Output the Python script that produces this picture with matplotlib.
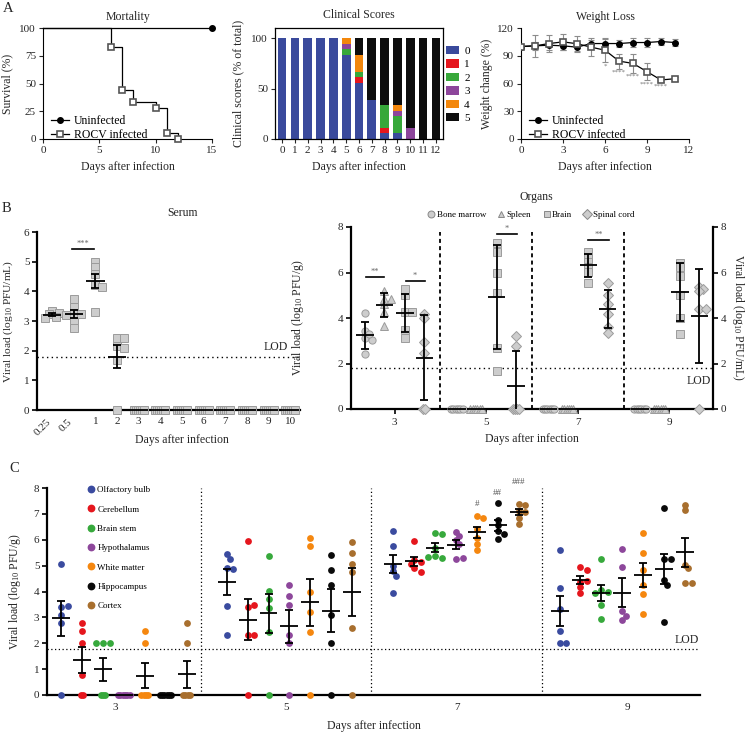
import numpy as np
import matplotlib
matplotlib.use('Agg')
import matplotlib.pyplot as plt
from matplotlib.lines import Line2D

plt.rcParams['font.family'] = ['Liberation Serif', 'DejaVu Serif']
plt.rcParams['mathtext.fontset'] = 'custom'
plt.rcParams['mathtext.rm'] = 'Liberation Serif'
plt.rcParams['mathtext.it'] = 'Liberation Serif:italic'

# ---------------- data ----------------
# A: mortality (Kaplan-Meier steps)
mort_days_inf = [0, 6, 7, 8, 10, 11, 12]
mort_surv_inf = [100, 83.3, 44.4, 33.3, 27.8, 5.6, 0]
mort_days_un = [0, 15]
mort_surv_un = [100, 100]

# A: clinical scores, % of animals per score
clin_days = list(range(13))
clin_scores = ['0', '1', '2', '3', '4', '5']
score0 = [100, 100, 100, 100, 100, 83.3, 55.6, 38.9, 5.6, 5.6, 0, 0, 0]
score1 = [0, 0, 0, 0, 0, 0, 5.6, 0, 5.6, 0, 0, 0, 0]
score2 = [0, 0, 0, 0, 0, 5.6, 5.6, 0, 22.2, 16.7, 0, 0, 0]
score3 = [0, 0, 0, 0, 0, 5.6, 0, 0, 0, 5.6, 11.1, 0, 0]
score4 = [0, 0, 0, 0, 0, 5.6, 16.7, 0, 0, 5.6, 0, 0, 0]
score5 = [0, 0, 0, 0, 0, 0, 16.7, 61.1, 66.7, 66.7, 88.9, 100, 100]
score_colors = ['#3a4a9c', '#e5161d', '#37a83a', '#8d459b', '#f3870c', '#0d0d0d']

# A: weight change
wt_days = list(range(12))
wt_uninf = [100, 100.7, 101.4, 100.7, 99.3, 103.2, 103.2, 103.2, 104.3, 104.3, 105.4, 104.3]
wt_uninf_err = [0, 4, 5, 5, 5, 4, 5, 4, 5, 5, 4, 4]
wt_inf = [100, 100.7, 103.2, 105, 103, 99.3, 96.0, 84.2, 81.7, 72.8, 63.8, 65.2]
wt_inf_err = [0, 12, 9, 9, 8, 10, 13, 8, 10, 9, 2, 2]
wt_star_days = [6, 7, 8, 9, 10]
wt_stars = ['*', '****', '****', '****', '****']

# B: serum viremia
serum_labels = ['0.25', '0.5', '1', '2', '3', '4', '5', '6', '7', '8', '9', '10']
serum_vals = [
    [3.35, 3.28, 3.22, 3.15, 3.1, 3.2],
    [3.74, 3.48, 3.26, 3.22, 2.98, 2.75],
    [5.0, 4.83, 4.6, 4.21, 4.16, 3.29],
    [2.42, 2.42, 2.16, 2.1, 1.69, 0],
    [0] * 6, [0] * 6, [0] * 6, [0] * 6,
    [0] * 6, [0] * 6, [0] * 6, [0] * 6,
]
lod = 1.8

# B: organs
org_days = [3, 5, 7, 9]
org_names = ['Bone marrow', 'Spleen', 'Brain', 'Spinal cord']
bone_marrow = [[4.2, 3.43, 3.1, 3.03, 3.28, 2.4], [0] * 6, [0] * 6, [0] * 6]
spleen = [[5.19, 4.84, 4.84, 4.6, 4.28, 3.65], [0] * 6, [0] * 6, [0] * 6]
brain = [[5.0, 5.26, 4.28, 4.28, 3.47, 3.1],
         [7.28, 6.92, 5.99, 5.08, 2.7, 1.67],
         [6.92, 6.7, 6.48, 6.25, 6.04, 5.52],
         [6.43, 6.26, 5.85, 5.01, 4.01, 3.28]]
spinal = [[4.18, 3.99, 2.93, 2.45, 0, 0],
          [3.21, 2.77, 0, 0, 0, 0],
          [5.52, 5.0, 4.62, 4.18, 3.62, 3.33],
          [5.38, 5.27, 5.19, 4.38, 4.38, 0]]

# C: brain regions
c_days = [3, 5, 7, 9]
region_names = ['Olfactory bulb', 'Cerebellum', 'Brain stem', 'Hypothalamus',
                'White matter', 'Hippocampus', 'Cortex']
region_colors = ['#3a4b9f', '#e5161d', '#37a93c', '#8d479b', '#f5870f', '#0a0a0a', '#a86f2e']
olf_bulb = [[5.05, 3.4, 3.45, 3.1, 2.78, 0], [5.43, 5.25, 4.9, 4.88, 3.44, 2.3],
            [6.33, 5.76, 5.0, 4.79, 4.6, 3.95], [5.6, 4.15, 3.31, 2.48, 2.0, 2.0]]
cerebellum = [[2.77, 2.48, 2.0, 0.78, 0, 0], [5.94, 3.41, 3.48, 2.3, 2.3, 0],
              [5.96, 5.21, 5.15, 5.05, 4.9, 4.76], [4.96, 4.83, 4.38, 4.42, 4.16, 3.93]]
brain_stem = [[2, 2, 2, 0, 0, 0], [5.38, 4.02, 3.7, 3.35, 2.45, 0],
              [6.26, 6.23, 5.7, 5.38, 5.28, 5.34], [5.25, 4.05, 3.98, 3.95, 3.48, 2.95]]
hypothal = [[0] * 6, [4.27, 3.84, 3.48, 2.3, 2.0, 0],
            [6.3, 6.14, 5.98, 5.83, 5.25, 5.31], [5.63, 4.96, 3.26, 3.07, 2.88]]
white_matter = [[2.48, 2.0, 0, 0, 0, 0], [6.05, 5.76, 3.99, 3.2, 2.45, 0],
                [6.9, 6.84, 6.43, 6.08, 5.85, 5.6], [6.26, 5.47, 4.83, 4.27, 3.9, 3.13]]
hippocampus = [[0] * 6, [5.4, 4.83, 4.27, 3.09, 2.0, 0],
               [7.42, 6.78, 6.56, 6.33, 6.21, 6.02], [7.23, 5.25, 5.24, 4.44, 4.25, 2.84]]
cortex = [[2.78, 2.0, 0, 0, 0, 0], [5.9, 5.5, 5.06, 4.76, 2.58, 0],
          [7.39, 7.36, 7.1, 7.07, 6.85, 6.62], [7.36, 7.16, 5.04, 4.89, 4.34, 4.31]]
regions = [olf_bulb, cerebellum, brain_stem, hypothal, white_matter, hippocampus, cortex]
c_hash = {4: '#', 5: '##', 6: '###'}  # region index -> label, day 7

# ---------------- helpers ----------------
W, H = 746, 733
fig = plt.figure(figsize=(W / 100, H / 100), dpi=100)
TXT = '#262626'


def px_axes(left, top, right, bottom):
    return fig.add_axes([left / W, 1 - bottom / H, (right - left) / W, (bottom - top) / H])


def swarm_x(ax, centre, values, diam, dmin_f, zero_step):
    # simple deterministic beeswarm in pixel space
    sx = ax.bbox.width / np.diff(ax.get_xlim())[0]
    sy = ax.bbox.height / np.diff(ax.get_ylim())[0]
    v = np.asarray(values, float)
    xs = np.full(len(v), float(centre))
    zi = np.where(v <= 0)[0]
    if len(zi):
        xs[zi] = centre + (np.arange(len(zi)) - (len(zi) - 1) / 2) * zero_step / sx
    placed = []
    step = diam * 0.5
    for i in np.where(v > 0)[0]:
        py = v[i] * sy
        k = 0
        while True:
            off = ((k + 1) // 2) * step * (1 if k % 2 else -1)
            if all(np.hypot(off - a, py - b) >= diam * dmin_f for a, b in placed):
                break
            k += 1
        placed.append((off, py))
        xs[i] = centre + off / sx
    return xs


def mean_bar(ax, x, vals, half_w, kind, capsize, lw=1.3):
    v = np.asarray(vals, float)
    m = v.mean()
    e = v.std(ddof=1)
    if kind == 'sem':
        e = e / np.sqrt(len(v))
    ax.plot([x - half_w, x + half_w], [m, m], color='k', lw=lw, zorder=6,
            clip_on=False, solid_capstyle='butt')
    if e > 0.01:
        ax.errorbar(x, m, yerr=e, fmt='none', ecolor='k', elinewidth=lw,
                    capsize=capsize, capthick=lw, zorder=6)


def style_a(ax):
    for s in ['top', 'right']:
        ax.spines[s].set_visible(False)
    ax.tick_params(length=3, width=0.8, labelsize=8, pad=2, colors=TXT)


def sig_bar(ax, x0, x1, y, label, fs=6):
    ax.plot([x0, x1], [y, y], color='k', lw=1.2, clip_on=False)
    ax.text((x0 + x1) / 2, y + 0.05, label, ha='center', va='bottom',
            fontsize=fs, color='#666666')


# ---------------- A: Mortality ----------------
ax = px_axes(43, 28, 212, 139)
ax.plot(mort_days_un, mort_surv_un, color='k', lw=0.9, clip_on=False)
ax.plot(mort_days_un[-1:], mort_surv_un[-1:], 'o', color='k', ms=4, clip_on=False)
ax.step(mort_days_inf, mort_surv_inf, where='post', color='k', lw=0.9, clip_on=False)
ax.plot(mort_days_inf[1:], mort_surv_inf[1:], 's', mfc='white', mec='#555555',
        mew=1.2, ms=4.5, clip_on=False, zorder=4)
ax.set_xlim(0, 15)
ax.set_ylim(0, 100)
ax.set_xticks([0, 5, 10, 15])
ax.set_yticks([0, 25, 50, 75, 100])
style_a(ax)
ax.set_xlabel('Days after infection', fontsize=8.5, color=TXT)
ax.set_ylabel('Survival (%)', fontsize=8.5, color=TXT)
ax.xaxis.set_label_coords(0.5, -0.2)
ax.yaxis.set_label_coords(-0.175, 0.5)
ax.set_title('Mortality', fontsize=8.5, color=TXT, pad=6)
hs = [Line2D([], [], color='k', lw=0.9, marker='o', ms=4),
      Line2D([], [], color='k', lw=0.9, marker='s', mfc='white', mec='#555555', mew=1.2, ms=4.5)]
ax.legend(hs, ['Uninfected', 'ROCV infected'], loc='lower left', bbox_to_anchor=(0.0, -0.09),
          frameon=False, fontsize=8.5, handlelength=1.5, handletextpad=0.4,
          labelspacing=0.15, borderpad=0.2)

# ---------------- A: Clinical scores ----------------
ax = px_axes(275, 28, 443, 139)
bottom = np.zeros(len(clin_days))
for vals, col, lab in zip([score0, score1, score2, score3, score4, score5], score_colors, clin_scores):
    ax.bar(clin_days, vals, bottom=bottom, width=0.68, color=col, label=lab)
    bottom += np.asarray(vals)
ax.set_xlim(-0.55, 12.55)
ax.set_ylim(0, 110)
ax.set_xticks(clin_days)
ax.set_yticks([0, 50, 100])
ax.tick_params(length=3, width=0.8, labelsize=8, pad=2, colors=TXT)
for s in ax.spines.values():
    s.set_linewidth(0.9)
ax.set_xlabel('Days after infection', fontsize=8.5, color=TXT)
ax.set_ylabel('Clinical scores (% of total)', fontsize=8.5, color=TXT)
ax.xaxis.set_label_coords(0.5, -0.2)
ax.yaxis.set_label_coords(-0.185, 0.5)
ax.set_title('Clinical Scores', fontsize=8.5, color=TXT, pad=7)
ax.legend(loc='upper left', bbox_to_anchor=(1.02, 0.84), frameon=False, fontsize=8,
          handlelength=1.1, handleheight=0.8, handletextpad=0.5, labelspacing=0.3,
          borderpad=0, borderaxespad=0)

# ---------------- A: Weight loss ----------------
ax = px_axes(521, 28, 689, 139)
ax.errorbar(wt_days, wt_uninf, yerr=wt_uninf_err, fmt='none', ecolor='#8c8c8c',
            elinewidth=0.8, capsize=2, capthick=0.8, zorder=2)
ax.errorbar(wt_days, wt_inf, yerr=wt_inf_err, fmt='none', ecolor='#8c8c8c',
            elinewidth=0.8, capsize=2, capthick=0.8, zorder=2)
ax.plot(wt_days, wt_uninf, color='k', lw=0.9, marker='o', ms=4, zorder=3)
ax.plot(wt_days, wt_inf, color='k', lw=0.9, marker='s', mfc='white', mec='#555555',
        mew=1.2, ms=4.5, zorder=4)
for d, s in zip(wt_star_days, wt_stars):
    ax.text(d, wt_inf[d] - wt_inf_err[d] - 1.5, s, ha='center', va='top', fontsize=5,
            color='#777777')
ax.set_xlim(0, 12)
ax.set_ylim(0, 120)
ax.set_xticks([0, 3, 6, 9, 12])
ax.set_yticks([0, 30, 60, 90, 120])
style_a(ax)
ax.set_xlabel('Days after infection', fontsize=8.5, color=TXT)
ax.set_ylabel('Weight change (%)', fontsize=8.5, color=TXT)
ax.xaxis.set_label_coords(0.5, -0.2)
ax.yaxis.set_label_coords(-0.165, 0.5)
ax.set_title('Weight Loss', fontsize=8.5, color=TXT, pad=6)
ax.legend(hs, ['Uninfected', 'ROCV infected'], loc='lower left', bbox_to_anchor=(0.0, -0.09),
          frameon=False, fontsize=8.5, handlelength=1.5, handletextpad=0.4,
          labelspacing=0.15, borderpad=0.2)

# ---------------- B: Serum ----------------
grey_face, grey_edge = '#cdcdcd', '#9b9b9b'
ax = px_axes(37, 232, 300, 410)
ax.set_xlim(-0.7, 11.45)
ax.set_ylim(0, 6)
for i, vals in enumerate(serum_vals):
    xs = swarm_x(ax, i, vals, 7, 0.7, 2.0)
    ax.plot(xs, vals, 's', mfc=grey_face, mec=grey_edge, mew=0.7, ms=5.2,
            ls='none', clip_on=False, zorder=4)
    mean_bar(ax, i, vals, 0.42, 'sem', 2.6)
ax.axhline(lod, color='k', lw=1.0, ls=(0, (1, 2.4)), zorder=1)
ax.text(10.9, lod + 0.12, 'LOD', ha='right', va='bottom', fontsize=8.5, color=TXT)
sig_bar(ax, 0.92, 1.95, 5.43, '***')
ax.set_xticks(range(len(serum_labels)))
ax.set_xticklabels(serum_labels)
for t in ax.get_xticklabels()[:2]:
    t.set_rotation(45)
    t.set_ha('right')
    t.set_va('top')
ax.set_yticks(range(7))
for s in ['top', 'right']:
    ax.spines[s].set_visible(False)
for s in ['left', 'bottom']:
    ax.spines[s].set_linewidth(1.6)
ax.tick_params(axis='y', length=3.5, width=1.4, labelsize=8, pad=2, colors=TXT)
ax.tick_params(axis='x', length=0, labelsize=8, pad=5, colors=TXT)
ax.set_xlabel('Days after infection', fontsize=8.5, color=TXT)
ax.set_ylabel('Viral load (log$_{10}$ PFU/mL)', fontsize=8.2, color=TXT)
ax.xaxis.set_label_coords(0.55, -0.135)
ax.yaxis.set_label_coords(-0.083, 0.5)
fig.text(182 / W, 1 - 213 / H, 'Serum', ha='center', va='center', fontsize=8.5, color=TXT)

# ---------------- B: Organs ----------------
ax = px_axes(351, 227, 713, 409)
ax.set_xlim(2.05, 9.95)
ax.set_ylim(0, 8)
org_offsets = [-0.64, -0.22, 0.23, 0.65]
org_markers = ['o', '^', 's', 'D']
org_ms = [5.2, 5.2, 5.2, 4.6]
for j, series in enumerate([bone_marrow, spleen, brain, spinal]):
    for k, day in enumerate(org_days):
        vals = series[k]
        c = day + org_offsets[j]
        xs = swarm_x(ax, c, vals, 7, 0.55, 2.3)
        ax.plot(xs, vals, org_markers[j], mfc=grey_face, mec=grey_edge, mew=0.7,
                ms=org_ms[j], ls='none', clip_on=False, zorder=4)
        mean_bar(ax, c, vals, 0.19, 'sd', 2.6)
for d in [4, 6, 8]:
    ax.plot([d, d], [0, 7.8], color='k', lw=1.3, ls=(0, (2.2, 1.8)), zorder=1)
ax.axhline(lod, color='k', lw=1.0, ls=(0, (1, 2.4)), zorder=1)
ax.text(9.9, 1.25, 'LOD', ha='right', va='center', fontsize=8.5, color=TXT)
sig_bar(ax, 2.37, 2.78, 5.82, '**')
sig_bar(ax, 3.24, 3.66, 5.64, '*')
sig_bar(ax, 5.24, 5.67, 7.68, '*')
sig_bar(ax, 7.23, 7.67, 7.43, '**')
ax.set_xticks(org_days)
ax.set_yticks([0, 2, 4, 6, 8])
ax.spines['top'].set_visible(False)
for s in ['left', 'bottom', 'right']:
    ax.spines[s].set_linewidth(1.6)
ax.tick_params(axis='y', which='both', left=True, right=True, labelleft=True, labelright=True,
               length=3.5, width=1.4, labelsize=8, pad=2, colors=TXT)
ax.tick_params(axis='x', length=3.5, width=1.4, labelsize=8, pad=3, colors=TXT)
ax.set_xlabel('Days after infection', fontsize=8.5, color=TXT)
ax.set_ylabel('Viral load (log$_{10}$ PFU/g)', fontsize=8.5, color=TXT)
ax.xaxis.set_label_coords(0.5, -0.132)
ax.yaxis.set_label_coords(-0.125, 0.5)
ax.text(1.07, 0.5, 'Viral load (log$_{10}$ PFU/mL)', transform=ax.transAxes, rotation=270,
        ha='center', va='center', fontsize=8.5, color=TXT)
oh = [Line2D([], [], marker=m, ls='none', mfc=grey_face, mec='#888888', mew=0.7, ms=5)
      for m in org_markers]
ax.legend(oh, org_names, loc='center', bbox_to_anchor=(0.497, 1.066), ncol=4, frameon=False,
          fontsize=6.5, handlelength=0.8, handletextpad=0.2, columnspacing=1.3,
          borderpad=0, borderaxespad=0)
fig.text(536 / W, 1 - 197 / H, 'Organs', ha='center', va='center', fontsize=8.5, color=TXT)

# ---------------- C: Brain regions ----------------
ax = px_axes(47, 488, 700, 695)
ax.set_xlim(2.2, 9.85)
ax.set_ylim(0, 8)
c_centres = [3.1, 5.04, 6.99, 8.94]
c_spacing = 0.245
for j, series in enumerate(regions):
    for k, day in enumerate(c_days):
        vals = series[k]
        c = c_centres[k] + (j - 3) * c_spacing
        xs = swarm_x(ax, c, vals, 6.7, 0.75, 2.3)
        ax.scatter(xs, vals, s=24, color=region_colors[j], linewidths=0,
                   clip_on=False, zorder=4)
        mean_bar(ax, c, vals, 0.105, 'sem', 3.0)
    if j in c_hash:
        ax.text(c_centres[2] + (j - 3) * c_spacing, 7.22 + 0.43 * (j - 4), c_hash[j],
                ha='center', va='bottom', fontsize=6.5, color='#555555')
for d in [4, 6, 8]:
    ax.plot([d, d], [0, 8], color='k', lw=0.9, ls=(0, (1, 2)), zorder=1)
ax.axhline(1.78, color='k', lw=0.9, ls=(0, (1, 2)), zorder=1)
ax.text(9.84, 1.9, 'LOD', ha='right', va='bottom', fontsize=8.5, color=TXT)
ax.set_xticks(c_days)
ax.set_yticks(range(9))
for s in ['top', 'right']:
    ax.spines[s].set_visible(False)
for s in ['left', 'bottom']:
    ax.spines[s].set_linewidth(1.6)
ax.tick_params(axis='y', length=3.5, width=1.4, labelsize=8, pad=2, colors=TXT)
ax.tick_params(axis='x', length=0, labelsize=8, pad=6, colors=TXT)
ax.set_xlabel('Days after infection', fontsize=8.5, color=TXT)
ax.set_ylabel('Viral load (log$_{10}$ PFU/g)', fontsize=8.5, color=TXT)
ax.xaxis.set_label_coords(0.5, -0.12)
ax.yaxis.set_label_coords(-0.037, 0.5)
ch = [Line2D([], [], marker='o', ls='none', color=c, ms=4.6) for c in region_colors]
ax.legend(ch, region_names, loc='upper left', bbox_to_anchor=(0.062, 1.01), frameon=False,
          fontsize=6.5, handlelength=0.8, handletextpad=0.3, labelspacing=1.22,
          borderpad=0, borderaxespad=0)

# panel letters
for lab, x, y in [('A', 8, 9), ('B', 6, 208), ('C', 14, 469)]:
    fig.text(x / W, 1 - y / H, lab, ha='center', va='center', fontsize=10.5, color=TXT)

fig.savefig('out.png', dpi=100)
